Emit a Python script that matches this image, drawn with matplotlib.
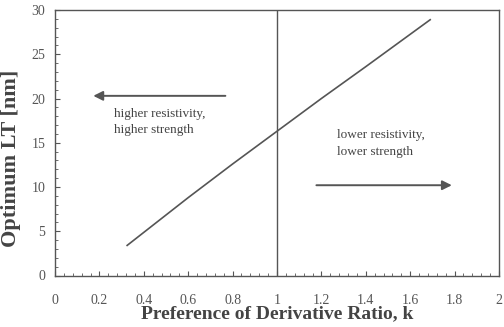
import matplotlib.pyplot as plt
from matplotlib.ticker import MultipleLocator

# optimum LT vs derivative ratio preference
k_vals = [0.325, 0.6, 0.8, 1.0, 1.2, 1.4, 1.69]
lt_vals = [3.4, 8.8, 12.6, 16.3, 20.0, 23.6, 28.9]
k_ref = 1.0

plt.rcParams['font.family'] = ['Liberation Serif', 'DejaVu Serif']

fig = plt.figure(figsize=(5.04, 3.27), dpi=100)
ax = fig.add_axes([55 / 504, 1 - 275.5 / 327, 444 / 504, 265.5 / 327])

grey = '#555555'
ax.plot(k_vals, lt_vals, color=grey, lw=1.2)
ax.axvline(k_ref, color=grey, lw=1.0)

# arrows and notes
ax.annotate('', xy=(0.16, 20.3), xytext=(0.78, 20.3),
            arrowprops=dict(arrowstyle='-|>', color=grey, lw=1.4, mutation_scale=14))
ax.annotate('', xy=(1.80, 10.2), xytext=(1.165, 10.2),
            arrowprops=dict(arrowstyle='-|>', color=grey, lw=1.4, mutation_scale=14))
ax.text(0.265, 18.9, 'higher resistivity,\nhigher strength', fontsize=9.5,
        color='#444444', va='top', ha='left', linespacing=1.45)
ax.text(1.27, 16.5, 'lower resistivity,\nlower strength', fontsize=9.5,
        color='#444444', va='top', ha='left', linespacing=1.45)

ax.set_xlim(0, 2)
ax.set_ylim(0, 30)
ax.xaxis.set_major_locator(MultipleLocator(0.2))
ax.xaxis.set_minor_locator(MultipleLocator(0.04))
ax.yaxis.set_major_locator(MultipleLocator(5))
ax.yaxis.set_minor_locator(MultipleLocator(1))
ax.set_xticks([0, 0.2, 0.4, 0.6, 0.8, 1, 1.2, 1.4, 1.6, 1.8, 2])
ax.set_xticklabels(['0', '0.2', '0.4', '0.6', '0.8', '1', '1.2', '1.4', '1.6', '1.8', '2'])
ax.tick_params(which='both', direction='in', colors=grey, labelcolor='#555555',
               labelsize=10, top=False, right=False)
ax.tick_params(axis='x', which='major', length=3.5, pad=13)
ax.tick_params(axis='y', which='major', length=3.5, pad=7)
ax.tick_params(which='minor', length=2)
for s in ax.spines.values():
    s.set_color(grey)
    s.set_linewidth(1.0)

ax.set_xlabel('Preference of Derivative Ratio, k', fontsize=14,
              fontweight='bold', color='#444444', labelpad=-1)
ax.set_ylabel('Optimum LT [nm]', fontsize=16, fontweight='bold',
              color='#444444')
ax.yaxis.set_label_coords(-0.077, 0.443)

fig.savefig('out.png', dpi=100)
